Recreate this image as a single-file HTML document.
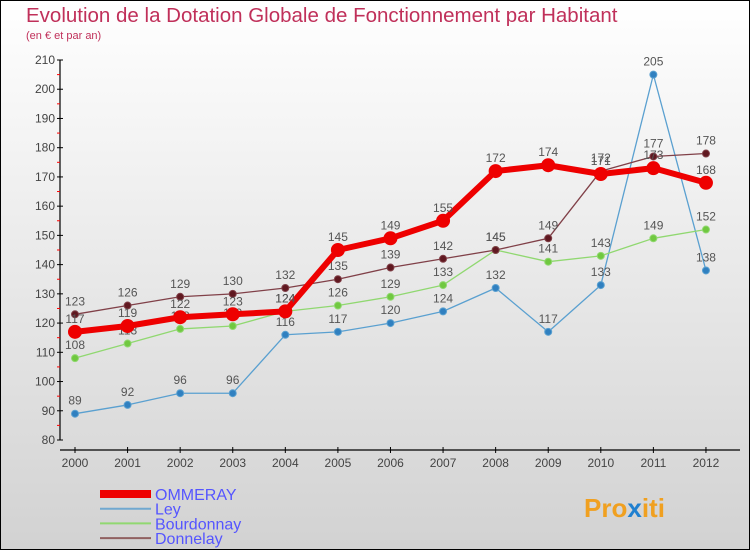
<!DOCTYPE html>
<html><head><meta charset="utf-8"><style>
body{margin:0}
#c{width:750px;height:550px;position:relative;font-family:"Liberation Sans",sans-serif}
</style></head><body>
<div id="c">
<svg id="s" width="750" height="550" xmlns="http://www.w3.org/2000/svg">
<defs><linearGradient id="bg" x1="0" y1="0" x2="0" y2="1"><stop offset="0" stop-color="#ffffff"/><stop offset="1" stop-color="#d2d2d2"/></linearGradient></defs>
<rect x="0.5" y="0.5" width="749" height="549" fill="url(#bg)" stroke="#000"/>
<text x="26" y="22" font-size="20.5" fill="#c0305a">Evolution de la Dotation Globale de Fonctionnement par Habitant</text>
<text x="26" y="39" font-size="11" fill="#c0305a">(en € et par an)</text>
<g id="axes"></g><g id="series"></g><g id="legend"></g>
<text x="584" y="517" font-size="26" font-weight="bold" fill="#f0a020">Pro<tspan fill="#2080d0">x</tspan>iti</text>
</svg></div>
<script>
const years=["2000","2001","2002","2003","2004","2005","2006","2007","2008","2009","2010","2011","2012"];
const yTicks=[80,90,100,110,120,130,140,150,160,170,180,190,200,210];
const ommeray=[117,119,122,123,124,145,149,155,172,174,171,173,168];
const ley=[89,92,96,96,116,117,120,124,132,117,133,205,138];
const bourdonnay=[108,113,118,119,124,126,129,133,145,141,143,149,152];
const donnelay=[123,126,129,130,132,135,139,142,145,149,172,177,178];
const NS="http://www.w3.org/2000/svg";
const X=i=>75+i*52.58, Y=v=>440-(v-80)*380/130;
function mk(t,a,p){const e=document.createElementNS(NS,t);for(const k in a)e.setAttribute(k,a[k]);p.appendChild(e);return e;}
const ax=document.getElementById('axes');
let yl=mk('line',{x1:60,y1:60,x2:60,y2:440,stroke:'#000','stroke-width':1.2},ax);


yTicks.forEach((v,i)=>{mk('line',{x1:57,x2:63,y1:Y(v),y2:Y(v),stroke:'#000'},ax);
 if(i<yTicks.length-1)mk('line',{x1:57,x2:60,y1:Y(v+5),y2:Y(v+5),stroke:'#f00'},ax);
 const t=mk('text',{x:55,y:Y(v)+4,'font-size':12,'text-anchor':'end',fill:'#444'},ax);t.textContent=v;
 
 });
let xl=mk('line',{x1:60,y1:450,x2:740,y2:450,stroke:'#000','stroke-width':1.2},ax);


years.forEach((y,i)=>{mk('line',{x1:X(i),x2:X(i),y1:447,y2:453,stroke:'#000'},ax);
 const t=mk('text',{x:X(i),y:467,'font-size':12,'text-anchor':'middle',fill:'#444'},ax);t.textContent=y;
 
 });
const S=document.getElementById('series');
function draw(d,col,w,r,name,dot){const g=mk('g',{},S);
 
 
 mk('polyline',{points:d.map((v,i)=>X(i)+','+Y(v)).join(' '),fill:'none',stroke:col,'stroke-width':w,'stroke-linejoin':'round'},g);
 d.forEach((v,i)=>{const c=mk('circle',{cx:X(i),cy:Y(v),r:r,fill:dot,stroke:col,'stroke-width':1},g);
  
  
  const t=mk('text',{x:X(i),y:Y(v)-9,'font-size':12,'text-anchor':'middle',fill:'#555'},g);t.textContent=v;
  
  });}
draw(ley,'#5aa0d0',1.3,3.5,'ley','#3080c0');
draw(bourdonnay,'#90d870',1.3,3.5,'bourdonnay','#70c840');
draw(donnelay,'#804048',1.3,3.5,'donnelay','#601820');
draw(ommeray,'#ee0000',6,6.5,'ommeray','#ee0000');
const L=document.getElementById('legend');
[['OMMERAY','#ee0000',8],['Ley','#70a8d0',2],['Bourdonnay','#90d870',2],['Donnelay','#906060',2]].forEach((e,i)=>{
 const y=494+i*14.7;const g=mk('g',{},L);
 
 
 mk('line',{x1:100,x2:151,y1:y,y2:y,stroke:e[1],'stroke-width':e[2]},g);
 const t=mk('text',{x:155,y:y+6,'font-size':16,fill:'#5555ff'},g);t.textContent=e[0];});
</script></body></html>
